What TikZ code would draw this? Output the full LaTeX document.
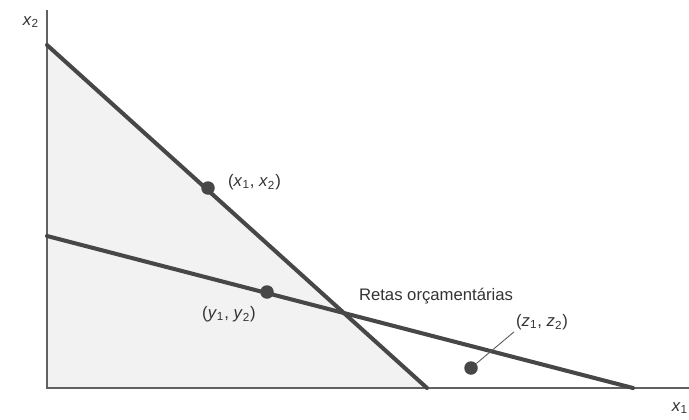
\documentclass[tikz,border=0pt]{standalone}
\usepackage{fontspec}
\setmainfont{Liberation Sans}
\newcommand{\cvar}[2]{\textit{#1}\textsubscript{#2}}
\begin{document}
\begin{tikzpicture}[x=0.02cm, y=-0.02cm,
  font=\fontsize{9.5}{11}\selectfont,
  axis/.style={draw=black!62, line width=1.5pt},
  budget/.style={draw=black!72, line width=2.3pt, line cap=round},
  pt/.style={circle, fill=black!72, inner sep=0pt, minimum size=0.27cm},
  lbl/.style={inner sep=1pt, text=black!80},
  lead/.style={draw=black!65, line width=0.5pt}]
\useasboundingbox (0,0) rectangle (689,419);

% axes and budget sets
\coordinate (o)  at (47,388);
\coordinate (ytop) at (47,10);
\coordinate (xend) at (689,388);
\coordinate (a1) at (47,45);
\coordinate (b1) at (427,388);
\coordinate (a2) at (47,236);
\coordinate (b2) at (633,388);
\fill[black!5] (o) -- (a1) -- (b1) -- cycle;
\draw[axis] (ytop) -- (o) -- (xend);
\draw[budget] (a1) -- (b1);
\draw[budget] (a2) -- (b2);

% axis labels
\node[lbl] (lx2) at (31,22) {\cvar{x}{2}};
\node[lbl] (lx1) at (680,408) {\cvar{x}{1}};

% bundles
\node[pt] (px) at (208,188) {};
\node[pt] (py) at (267,292) {};
\node[pt] (pz) at (471,368) {};
\node[lbl, anchor=west] (tx) at (226,182) {(\cvar{x}{1}, \cvar{x}{2})};
\node[lbl] (ty) at (229,314) {(\cvar{y}{1}, \cvar{y}{2})};
\node[lbl, anchor=west] (tz) at (514,322) {(\cvar{z}{1}, \cvar{z}{2})};
\node[lbl] (rt) at (436,296) {Retas orçamentárias};
\draw[lead] (pz) -- (tz.south west);
\end{tikzpicture}
\end{document}
